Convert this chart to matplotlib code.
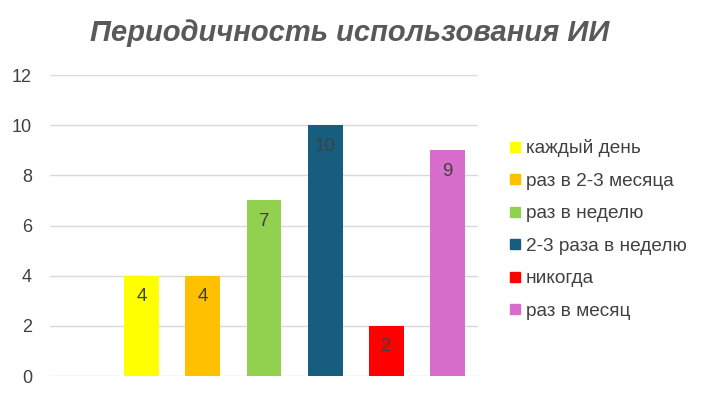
import matplotlib
matplotlib.use("Agg")
import matplotlib.pyplot as plt
from matplotlib.lines import Line2D

plt.rcParams['font.family'] = ['Liberation Sans', 'DejaVu Sans']

TITLE = "Периодичность использования ИИ"
categories = ["каждый день", "раз в 2-3 месяца", "раз в неделю",
              "2-3 раза в неделю", "никогда", "раз в месяц"]
values = [4, 4, 7, 10, 2, 9]
colors = ["#FFFF00", "#FFC000", "#92D050", "#175E7E", "#FF0000", "#D86ECC"]
yticks = [0, 2, 4, 6, 8, 10, 12]


def create_graph():
    fig = plt.figure(figsize=(7.04, 3.99), dpi=100)
    ax = fig.add_axes([0.071, 0.0576, 0.608, 0.7544])
    positions = range(1, len(values) + 1)
    ax.bar(positions, values, width=0.57, color=colors, zorder=2)
    for x, v in zip(positions, values):
        ax.annotate(str(v), (x, v), xytext=(0, -15), textcoords="offset points",
                    ha="center", va="center", fontsize=13.5, color="#404040")
    ax.set_xlim(-0.5, 6.5)
    ax.set_ylim(0, 12)
    ax.set_yticks(yticks)
    ax.set_xticks([])
    ax.grid(axis="y", color="#D9D9D9", linewidth=1, zorder=0)
    for s in ax.spines.values():
        s.set_visible(False)
    ax.tick_params(axis="y", length=0, pad=13, labelsize=13, labelcolor="#404040")

    handles = [Line2D([], [], marker="s", linestyle="none", markersize=7,
                      markerfacecolor=c, markeredgecolor=c) for c in colors]
    fig.legend(handles, categories, loc="upper left", bbox_to_anchor=(0.712, 0.67),
               frameon=False, fontsize=13.7, labelspacing=0.8, handlelength=0.6,
               handletextpad=0.3, labelcolor="#404040", borderaxespad=0)

    fig.text(0.497, 0.918, TITLE, ha="center", va="center", fontsize=21,
             fontweight="bold", fontstyle="italic", color="#595959")
    return fig


def save_graph(fig, image_file):
    fig.savefig(image_file, dpi=100)


if __name__ == "__main__":
    fig = create_graph()
    save_graph(fig, "out.png")
